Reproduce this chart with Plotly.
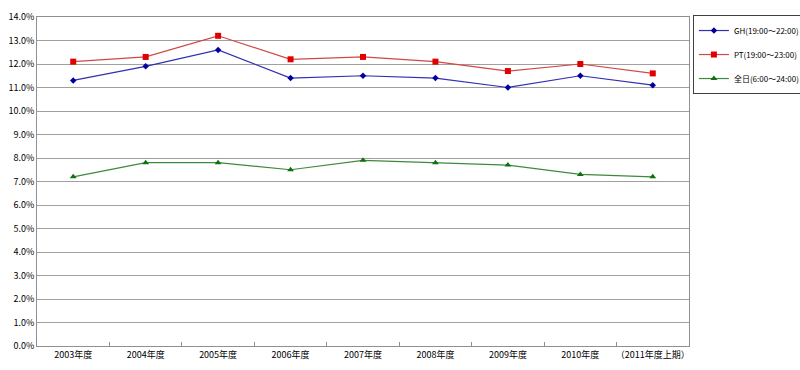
import plotly.graph_objects as go

categories = ["2003年度", "2004年度", "2005年度", "2006年度", "2007年度",
              "2008年度", "2009年度", "2010年度", "（2011年度上期）"]
gh = [11.3, 11.9, 12.6, 11.4, 11.5, 11.4, 11.0, 11.5, 11.1]
pt = [12.1, 12.3, 13.2, 12.2, 12.3, 12.1, 11.7, 12.0, 11.6]
allday = [7.2, 7.8, 7.8, 7.5, 7.9, 7.8, 7.7, 7.3, 7.2]
names = ["GH(19:00～22:00)", "PT(19:00～23:00)", "全日(6:00～24:00)"]

FONT = "Noto Sans CJK JP, sans-serif"

fig = go.Figure()
fig.add_trace(go.Scatter(x=categories, y=gh, name=names[0], mode="lines+markers",
                         legendgroup="a",
                         line=dict(color="#3030b0", width=1.2),
                         marker=dict(symbol="diamond", size=5, color="#0000a0")))
fig.add_trace(go.Scatter(x=categories, y=pt, name=names[1], mode="lines+markers",
                         legendgroup="b",
                         line=dict(color="#d04848", width=1.2),
                         marker=dict(symbol="square", size=6, color="#e00000")))
fig.add_trace(go.Scatter(x=categories, y=allday, name=names[2], mode="lines+markers",
                         legendgroup="c",
                         line=dict(color="#3d8a3d", width=1.2),
                         marker=dict(symbol="triangle-up", size=6, color="#107010")))

fig.update_layout(
    width=800, height=370,
    margin=dict(l=37, r=111, t=17, b=24, autoexpand=False),
    paper_bgcolor="white", plot_bgcolor="white",
    font=dict(family=FONT, size=9, color="black"),
    legend=dict(x=1.006, y=1.006, xanchor="left", yanchor="top",
                bordercolor="#404040", borderwidth=1, bgcolor="white",
                tracegroupgap=5, font=dict(size=8),
                traceorder="grouped"),
    xaxis=dict(type="category", range=[-0.5, 8.5], showgrid=False,
               showline=True, linecolor="#909090", linewidth=1, mirror=True,
               ticks="inside", tickson="boundaries", ticklen=4,
               tickcolor="#909090", tickfont=dict(size=9), tickangle=0),
    yaxis=dict(range=[0, 14], dtick=1, tickformat=".1f", ticksuffix="%",
               showgrid=True, gridcolor="#a0a0a0", gridwidth=1,
               showline=True, linecolor="#909090", linewidth=1, mirror=True,
               zeroline=False, ticks="", tickfont=dict(size=9)),
)

fig.write_html("out.html", config={"displayModeBar": False},
               post_script="document.body.style.margin='0';document.body.style.overflow='hidden';")
